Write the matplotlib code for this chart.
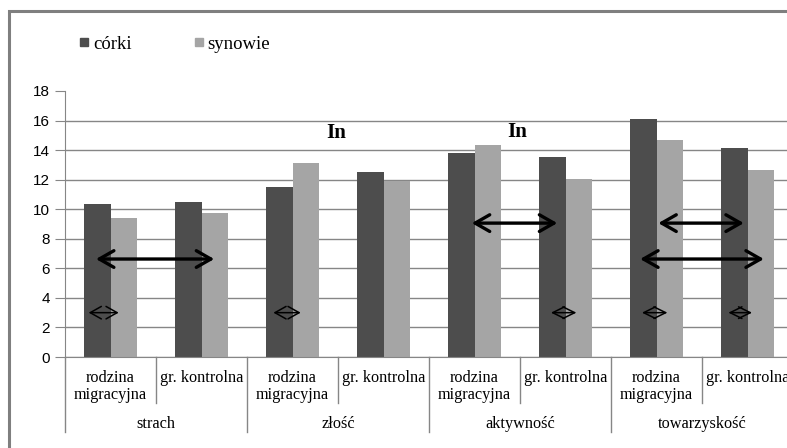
import matplotlib
matplotlib.use('Agg')
import matplotlib.pyplot as plt
from matplotlib.lines import Line2D
from matplotlib.patches import Rectangle
import numpy as np

# dane
emocje = ["strach", "złość", "aktywność", "towarzyskość"]
grupy = ["rodzina\nmigracyjna", "gr. kontrolna"]
corki = [10.35, 10.5, 11.5, 12.5, 13.8, 13.53, 16.1, 14.14]
synowie = [9.4, 9.75, 13.13, 11.9, 14.34, 12.04, 14.68, 12.65]

# strzałki: (x od, x do, y, rodzaj)
strzalki = [
    (-0.16, 1.14, 6.63, "duza"),
    (-0.24, 0.09, 3.0, "mala"),
    (1.79, 2.09, 3.0, "mala"),
    (3.97, 4.91, 9.06, "duza"),
    (4.84, 5.12, 3.0, "romb"),
    (6.02, 6.96, 9.06, "duza"),
    (5.82, 7.18, 6.63, "duza"),
    (5.84, 6.12, 3.0, "romb"),
    (6.79, 7.05, 3.0, "romb"),
]
napisy_in = [(2.48, 15.15), (4.47, 15.2)]

c_dark = "#4d4d4d"
c_light = "#a5a5a5"
c_grid = "#868686"
serif = "Liberation Serif"

W, H = 787, 448
fig = plt.figure(figsize=(W / 100, H / 100), dpi=100)
ax = fig.add_axes([65 / W, (H - 357) / H, 728 / W, 266 / H])

x = np.arange(len(corki))
bw = 0.286
ax.bar(x - bw / 2, corki, bw, color=c_dark, zorder=2)
ax.bar(x + bw / 2, synowie, bw, color=c_light, zorder=2)

ax.set_xlim(-0.5, len(corki) - 0.5)
ax.set_ylim(0, 18)
ax.set_yticks(range(0, 19, 2))
ax.yaxis.grid(True, color=c_grid, linewidth=1, zorder=0)
ax.yaxis.get_gridlines()[-1].set_visible(False)
ax.set_xticks([])
for s in ["top", "right"]:
    ax.spines[s].set_visible(False)
ax.spines["left"].set_color(c_grid)
ax.spines["bottom"].set_color(c_grid)
ax.tick_params(axis="y", length=7, color=c_grid, pad=4, labelsize=11)
for t in ax.get_yticklabels():
    t.set_fontfamily("Liberation Sans")

# etykiety osi x (dwa poziomy)
tr = ax.get_xaxis_transform()
for i in range(len(corki)):
    ax.text(i, -0.048, grupy[i % 2], transform=tr, ha="center", va="top",
            fontsize=11.7, family=serif, linespacing=1.12)
for j, e in enumerate(emocje):
    ax.text(2 * j + 0.5, -0.25, e, transform=tr, ha="center", va="center",
            fontsize=11.7, family=serif)
for k in range(len(corki) + 1):
    y_end = -0.283 if k % 2 == 0 else -0.173
    ax.plot([k - 0.5, k - 0.5], [0, y_end], transform=tr, color=c_grid,
            linewidth=1, clip_on=False)

# strzałki
for x0, x1, yv, rodzaj in strzalki:
    if rodzaj == "duza":
        st = "<->,head_length=1.05,head_width=0.6"
        lw = 2.4
    elif rodzaj == "mala":
        st = "<->,head_length=0.8,head_width=0.45"
        lw = 1.1
    else:
        st = "<->,head_length=0.85,head_width=0.42"
        lw = 1.1
    ax.annotate("", xy=(x1, yv), xytext=(x0, yv),
                arrowprops=dict(arrowstyle=st, color="black", lw=lw,
                                shrinkA=0, shrinkB=0), zorder=4)

for xi, yi in napisy_in:
    ax.text(xi, yi, "In", ha="center", va="center", fontsize=15,
            fontweight="bold", family=serif, zorder=4)

# legenda
uchwyty = [Line2D([], [], marker="s", linestyle="", color=c_dark, markersize=6),
           Line2D([], [], marker="s", linestyle="", color=c_light, markersize=6)]
fig.legend(uchwyty, ["córki", "synowie"], loc="center left",
           bbox_to_anchor=(62 / W, (H - 44) / H), ncol=2, frameon=False,
           handlelength=0.55, handletextpad=0.2, columnspacing=3.3,
           prop={"family": serif, "size": 13.5})

# ramka wykresu
fig.patches.append(Rectangle((9 / W, -0.1), 1.2, (H - 11) / H + 0.1,
                             transform=fig.transFigure, fill=False,
                             edgecolor="#7f7f7f", linewidth=2.2))

plt.savefig("out.png", dpi=100)
